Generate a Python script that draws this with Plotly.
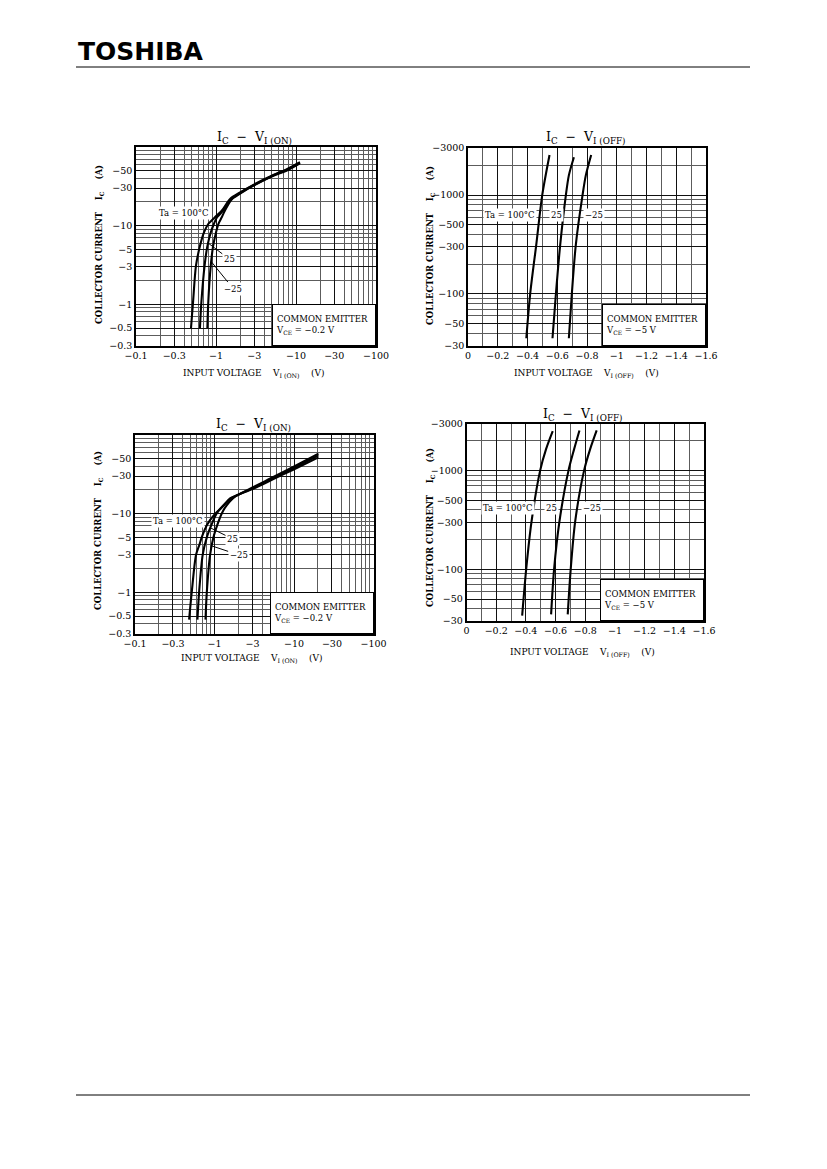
import numpy as np
import plotly.graph_objects as go

W, H = 827, 1169

# ---------------- data ----------------
# I_C - V_I(ON) (top chart), |V| in volts, |I_C| in amperes
on1_100_v = [0.487, 0.516, 0.562, 0.63, 0.708, 0.80, 0.97, 1.18, 1.5, 2.0, 2.9, 5.2, 7.6, 11.2]
on1_100_i = [0.5, 1.05, 3.1, 5.5, 8.2, 10.5, 12.8, 15.5, 21.9, 26.5, 32.8, 44, 52, 64]
on1_25_v = [0.63, 0.656, 0.72, 0.78, 0.86, 0.94, 1.03, 1.23, 1.45, 2.0, 2.9, 5.2, 7.6, 11.2]
on1_25_i = [0.5, 1.05, 3.1, 5.5, 8.2, 10.5, 12.8, 15.5, 20.5, 26, 32.4, 43.5, 51, 63]
on1_m25_v = [0.78, 0.80, 0.86, 0.92, 1.0, 1.07, 1.18, 1.29, 1.57, 2.0, 2.9, 5.2, 7.6, 11.2]
on1_m25_i = [0.5, 1.05, 3.1, 5.5, 8.2, 10.5, 12.8, 15.5, 21.5, 25.5, 32, 43, 50, 62]

# I_C - V_I(ON) (bottom chart)
on2_100_v = [0.479, 0.517, 0.586, 0.65, 0.69, 0.81, 1.02, 1.29, 1.57, 3.0, 5.5, 9.9, 20.3]
on2_100_i = [0.45, 1.0, 3.0, 4.1, 5.0, 7.3, 10, 12.5, 15.6, 20.5, 27.5, 36.5, 52]
on2_25_v = [0.61, 0.64, 0.71, 0.80, 0.92, 1.06, 1.27, 1.62, 3.0, 5.5, 9.9, 20.3]
on2_25_i = [0.45, 1.0, 3.0, 5.0, 7.3, 10, 12.5, 15.6, 21, 28.4, 38, 55]
on2_m25_v = [0.77, 0.80, 0.88, 0.97, 1.09, 1.23, 1.40, 1.73, 3.0, 5.5, 9.9, 20.3]
on2_m25_i = [0.45, 1.0, 3.0, 5.0, 7.3, 10, 12.5, 15.9, 21.5, 29.2, 39.5, 58]

# I_C - V_I(OFF) (top chart)
off1_100_v = [0.392, 0.418, 0.459, 0.499, 0.548]
off1_100_i = [35.5, 100, 316, 1000, 2550]
off1_25_v = [0.568, 0.591, 0.620, 0.658, 0.678, 0.712]
off1_25_i = [35.5, 100, 316, 1000, 1585, 2420]
off1_m25_v = [0.678, 0.698, 0.725, 0.770, 0.792, 0.828]
off1_m25_i = [35.5, 100, 316, 1000, 1585, 2550]

# I_C - V_I(OFF) (bottom chart)
off2_100_v = [0.375, 0.402, 0.438, 0.496, 0.536, 0.581]
off2_100_i = [34, 100, 304, 1000, 1650, 2510]
off2_25_v = [0.570, 0.590, 0.626, 0.687, 0.725, 0.761]
off2_25_i = [35, 100, 304, 1000, 1650, 2550]
off2_m25_v = [0.682, 0.702, 0.732, 0.792, 0.833, 0.877]
off2_m25_i = [35, 100, 304, 1000, 1650, 2550]

# tick labels
on_x_ticks = [0.1, 0.3, 1, 3, 10, 30, 100]
on_x_text = ["\u22120.1", "\u22120.3", "\u22121", "\u22123", "\u221210", "\u221230", "\u2212100"]
on_y_ticks = [0.3, 0.5, 1, 3, 5, 10, 30, 50]
on_y_text = ["\u22120.3", "\u22120.5", "\u22121", "\u22123", "\u22125", "\u221210", "\u221230", "\u221250"]
off_x_ticks = [0, 0.2, 0.4, 0.6, 0.8, 1.0, 1.2, 1.4, 1.6]
off_x_text = ["0", "\u22120.2", "\u22120.4", "\u22120.6", "\u22120.8", "\u22121", "\u22121.2", "\u22121.4", "\u22121.6"]
off_y_ticks = [30, 50, 100, 300, 500, 1000, 3000]
off_y_text = ["\u221230", "\u221250", "\u2212100", "\u2212300", "\u2212500", "\u22121000", "\u22123000"]

# ---------------- helpers ----------------
FONT = "DejaVu Serif"
OX, OY = 8, 8  # page body margin of the html page


def px(x):
    return (x - OX) / W


def py(y):
    return 1 - (y - OY) / H


def log_minor(lo_dec, hi_dec, lo, hi):
    vals = []
    for d in range(lo_dec, hi_dec + 1):
        for m in range(1, 10):
            v = m * 10.0 ** d
            if lo - 1e-9 <= v <= hi + 1e-9:
                vals.append(round(v, 6))
    return vals


fig = go.Figure()

# plot-area rectangles in page pixels (left, right, top, bottom)
boxes = {
    1: (136, 376, 147, 345.5),
    2: (468, 706, 148, 345.5),
    3: (135, 373.5, 435, 633.5),
    4: (466.5, 704, 423.5, 621),
}

series = {
    1: [(on1_100_v, on1_100_i), (on1_25_v, on1_25_i), (on1_m25_v, on1_m25_i)],
    2: [(off1_100_v, off1_100_i), (off1_25_v, off1_25_i), (off1_m25_v, off1_m25_i)],
    3: [(on2_100_v, on2_100_i), (on2_25_v, on2_25_i), (on2_m25_v, on2_m25_i)],
    4: [(off2_100_v, off2_100_i), (off2_25_v, off2_25_i), (off2_m25_v, off2_m25_i)],
}

for k, lst in series.items():
    xa = "x" if k == 1 else f"x{k}"
    ya = "y" if k == 1 else f"y{k}"
    for vx, vy in lst:
        fig.add_trace(go.Scatter(x=vx, y=vy, xaxis=xa, yaxis=ya, mode="lines",
                                 line=dict(color="black", width=2.1, shape="spline", smoothing=0.8),
                                 showlegend=False, hoverinfo="skip"))

tickfont = dict(family=FONT, size=9.5, color="black")
GRID_MAJOR = "#111111"
GRID_MINOR = "#5c5c5c"

layout = dict(template="none", width=W, height=H, autosize=False,
              margin=dict(l=0, r=0, t=0, b=0, pad=0, autoexpand=False),
              paper_bgcolor="white", plot_bgcolor="white", showlegend=False)

on_x_minor = log_minor(-1, 2, 0.1, 100)
on_y_minor = log_minor(-1, 2, 0.3, 100)
off_y_minor = log_minor(1, 3, 30, 3000)
off_x_minor = [round(0.1 * i, 2) for i in range(17)]

for k in (1, 2, 3, 4):
    l, r, t, b = boxes[k]
    xn = "xaxis" if k == 1 else f"xaxis{k}"
    yn = "yaxis" if k == 1 else f"yaxis{k}"
    an_x = "y" if k == 1 else f"y{k}"
    an_y = "x" if k == 1 else f"x{k}"
    common = dict(showline=True, linecolor="black", linewidth=1.5, mirror=True, automargin=False,
                  zeroline=False, ticks="", tickfont=tickfont, showgrid=True,
                  gridcolor=GRID_MAJOR, gridwidth=1, fixedrange=True)
    if k in (1, 3):
        xax = dict(domain=[px(l), px(r)], anchor=an_x, type="log", range=[-1, 2],
                   tickmode="array", tickvals=on_x_ticks, ticktext=on_x_text,
                   minor=dict(tickvals=on_x_minor, showgrid=True, gridcolor=GRID_MINOR, gridwidth=1, ticks=""),
                   **common)
        yax = dict(domain=[py(b), py(t)], anchor=an_y, type="log", range=[np.log10(0.3), 2],
                   tickmode="array", tickvals=on_y_ticks, ticktext=on_y_text,
                   minor=dict(tickvals=on_y_minor, showgrid=True, gridcolor=GRID_MINOR, gridwidth=1, ticks=""),
                   **common)
    else:
        xax = dict(domain=[px(l), px(r)], anchor=an_x, type="linear", range=[0, 1.6],
                   tickmode="array", tickvals=off_x_ticks, ticktext=off_x_text,
                   minor=dict(tickvals=off_x_minor, showgrid=True, gridcolor=GRID_MINOR, gridwidth=1, ticks=""),
                   **common)
        yax = dict(domain=[py(b), py(t)], anchor=an_y, type="log", range=[np.log10(30), np.log10(3000)],
                   tickmode="array", tickvals=off_y_ticks, ticktext=off_y_text,
                   minor=dict(tickvals=off_y_minor, showgrid=True, gridcolor=GRID_MINOR, gridwidth=1, ticks=""),
                   **common)
    layout[xn] = xax
    layout[yn] = yax

fig.update_layout(**layout)

ann = []


def text(xp, yp, s, size=8.5, bold=False, angle=0, bg=None, xanchor="center", yanchor="middle"):
    d = dict(x=px(xp), y=py(yp), xref="paper", yref="paper", text=(f"<b>{s}</b>" if bold else s),
             showarrow=False, textangle=angle, xanchor=xanchor, yanchor=yanchor,
             font=dict(family=FONT, size=size, color="black"))
    if bg:
        d.update(bgcolor=bg, borderpad=1)
    ann.append(d)


# chart titles
t_on = "I<sub>C</sub>  \u2212  V<sub>I (ON)</sub>"
t_off = "I<sub>C</sub>  \u2212  V<sub>I (OFF)</sub>"
text(254, 138, t_on, size=12.5)
text(585, 138, t_off, size=12.5)
text(253, 424, t_on, size=12.5)
text(582, 415, t_off, size=12.5)

# x-axis titles
xt_on = "INPUT VOLTAGE    V<sub>I (ON)</sub>    (V)"
xt_off = "INPUT VOLTAGE    V<sub>I (OFF)</sub>    (V)"
text(254, 374, xt_on, size=9)
text(586, 374, xt_off, size=9)
text(252, 659, xt_on, size=9)
text(582, 652, xt_off, size=9)

# y-axis titles
yt = "COLLECTOR CURRENT    I<sub>C</sub>    (A)"
text(100, 245, yt, size=8.5, bold=True, angle=-90)
text(431, 245, yt, size=8.5, bold=True, angle=-90)
text(99, 531, yt, size=8.5, bold=True, angle=-90)
text(430, 528, yt, size=8.5, bold=True, angle=-90)

# curve labels
text(184, 213, "Ta = 100\u00b0C", bg="white")
text(178, 521, "Ta = 100\u00b0C", bg="white")
text(510, 215.5, "Ta = 100\u00b0C", bg="white")
text(556.5, 215.5, "25", bg="white")
text(593.5, 215.5, "\u221225", bg="white")
text(508, 507.5, "Ta = 100\u00b0C", bg="white")
text(551, 507.5, "25", bg="white")
text(592, 508, "\u221225", bg="white")


def leader(xa, ya, x, y, s, ax, ay):
    ann.append(dict(x=np.log10(x), y=np.log10(y), xref=xa, yref=ya, text=s, showarrow=True,
                    arrowhead=0, arrowwidth=1, arrowcolor="black", ax=ax, ay=ay,
                    bgcolor="white", borderpad=1, font=dict(family=FONT, size=8.5, color="black")))


leader("x", "y", 0.80, 6.0, "25", 21, 16)
leader("x", "y", 0.87, 3.5, "\u221225", 22, 27)
leader("x3", "y3", 0.89, 6.6, "25", 22, 11)
leader("x3", "y3", 0.92, 3.9, "\u221225", 27, 9)


# condition boxes
def cond(xa, ya, s):
    ann.append(dict(x=1, y=0, xref=f"{xa} domain", yref=f"{ya} domain", xanchor="right", yanchor="bottom",
                    text=s, showarrow=False, align="left", bgcolor="white", bordercolor="black",
                    borderwidth=1, borderpad=3, width=96, height=34,
                    font=dict(family=FONT, size=8.5, color="black")))


cond("x", "y", "COMMON EMITTER<br>V<sub>CE</sub> = \u22120.2 V")
cond("x2", "y2", "COMMON EMITTER<br>V<sub>CE</sub> = \u22125 V")
cond("x3", "y3", "COMMON EMITTER<br>V<sub>CE</sub> = \u22120.2 V")
cond("x4", "y4", "COMMON EMITTER<br>V<sub>CE</sub> = \u22125 V")

# header logo
ann.append(dict(x=px(76), y=py(51), xref="paper", yref="paper", xanchor="left", yanchor="middle",
                text="<b>TOSHIBA</b>", showarrow=False,
                font=dict(family="DejaVu Sans", size=25, color="black")))

fig.update_layout(annotations=ann)

fig.add_shape(type="line", xref="paper", yref="paper", x0=px(76), x1=px(750), y0=py(67), y1=py(67),
              line=dict(color="black", width=1))
fig.add_shape(type="line", xref="paper", yref="paper", x0=px(76), x1=px(750), y0=py(1095), y1=py(1095),
              line=dict(color="black", width=1))

fig.write_html("out.html")
